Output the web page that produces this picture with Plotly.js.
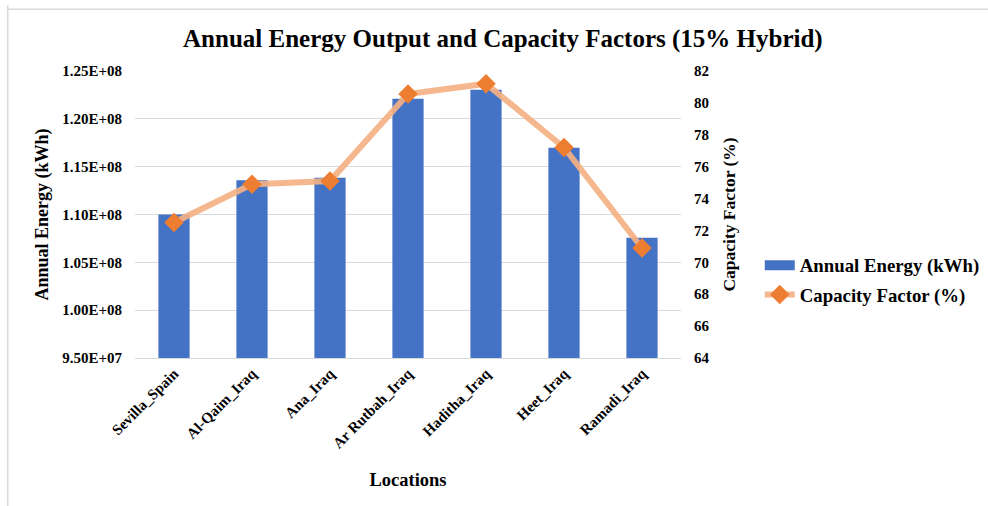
<!DOCTYPE html>
<html>
<head>
<meta charset="utf-8">
<script src="https://cdn.plot.ly/plotly-3.0.1.min.js"></script>
<style>
  html, body { margin: 0; padding: 0; background: #fff; }
  #chart { width: 988px; height: 506px; }
</style>
</head>
<body>
<div id="chart"></div>
<script>
const locations = ["Sevilla_Spain", "Al-Qaim_Iraq", "Ana_Iraq", "Ar Rutbah_Iraq", "Haditha_Iraq", "Heet_Iraq", "Ramadi_Iraq"];
const annualEnergy = [1.100e8, 1.1358e8, 1.1385e8, 1.2211e8, 1.2305e8, 1.1699e8, 1.0756e8];
const capacityFactor = [72.5, 74.9, 75.1, 80.55, 81.2, 77.2, 70.9];
const energyTickVals = [0.95e8, 1.00e8, 1.05e8, 1.10e8, 1.15e8, 1.20e8, 1.25e8];
const energyTickText = ["9.50E+07", "1.00E+08", "1.05E+08", "1.10E+08", "1.15E+08", "1.20E+08", "1.25E+08"];
const cfTickVals = [64, 66, 68, 70, 72, 74, 76, 78, 80, 82];

const FONT = "'Liberation Serif', 'Times New Roman', serif";
const BAR_COLOR = '#4472C4';

const traces = [
  {
    type: 'bar',
    name: 'Annual Energy (kWh)',
    x: locations,
    y: annualEnergy,
    marker: { color: BAR_COLOR },
    yaxis: 'y',
    showlegend: false
  },
  {
    // legend-only entry to show a wide rectangle swatch like the original
    type: 'scatter',
    mode: 'lines',
    name: 'Annual Energy (kWh)',
    x: [null],
    y: [null],
    line: { color: BAR_COLOR, width: 10 },
    legendgroup: 'a',
    showlegend: true
  },
  {
    type: 'scatter',
    mode: 'lines+markers',
    name: 'Capacity Factor (%)',
    x: locations,
    y: capacityFactor,
    yaxis: 'y2',
    legendgroup: 'b',
    line: { color: 'rgba(244,177,131,0.92)', width: 6 },
    marker: { symbol: 'diamond', size: 15, color: '#ED7D31', line: { width: 0 } }
  }
];

const boldFont = (size) => ({ family: FONT, size: size, color: '#000000', weight: 'bold' });

const layout = {
  width: 988,
  height: 506,
  margin: { l: 135, r: 307, t: 71, b: 148, autoexpand: false },
  paper_bgcolor: '#ffffff',
  plot_bgcolor: '#ffffff',
  font: { family: FONT, color: '#000000', size: 15 },
  bargap: 0.6,
  showlegend: true,
  title: {
    text: 'Annual Energy Output and Capacity Factors (15% Hybrid)',
    font: boldFont(25),
    x: 0.509, xref: 'container', xanchor: 'center',
    y: 0.925, yref: 'container', yanchor: 'middle'
  },
  xaxis: {
    type: 'category',
    tickangle: -45,
    tickfont: boldFont(15),
    showgrid: false,
    showline: true,
    linecolor: '#d9d9d9',
    linewidth: 1,
    ticks: '',
    title: { text: 'Locations', font: boldFont(18.5), standoff: 22 }
  },
  yaxis: {
    range: [0.95e8, 1.25e8],
    tickvals: energyTickVals,
    ticktext: energyTickText,
    tickfont: boldFont(15),
    ticklabelstandoff: 12,
    showgrid: true,
    gridcolor: '#d9d9d9',
    gridwidth: 1,
    zeroline: false,
    ticks: '',
    title: { text: 'Annual Energy (kWh)', font: boldFont(18), standoff: 8 }
  },
  yaxis2: {
    overlaying: 'y',
    side: 'right',
    range: [64, 82],
    tickvals: cfTickVals,
    tickfont: boldFont(15),
    ticklabelstandoff: 12,
    showgrid: false,
    zeroline: false,
    ticks: '',
    title: { text: 'Capacity Factor (%)', font: boldFont(17.5), standoff: 14 }
  },
  legend: {
    xref: 'container', yref: 'container',
    x: 0.769, xanchor: 'left',
    y: 0.513, yanchor: 'top',
    font: boldFont(18.8),
    bgcolor: 'rgba(0,0,0,0)',
    traceorder: 'grouped',
    tracegroupgap: 2,
    itemwidth: 30
  },
  shapes: [
    { type: 'line', xref: 'paper', yref: 'paper', x0: -0.233, x1: -0.233, y0: 1.23, y1: -0.6, line: { color: '#d9d9d9', width: 1.5 } },
    { type: 'line', xref: 'paper', yref: 'paper', x0: -0.233, x1: 1.6, y0: 1.215, y1: 1.215, line: { color: '#d9d9d9', width: 1.5 } }
  ]
};

Plotly.newPlot('chart', traces, layout, { displayModeBar: false, staticPlot: true });
</script>
</body>
</html>
